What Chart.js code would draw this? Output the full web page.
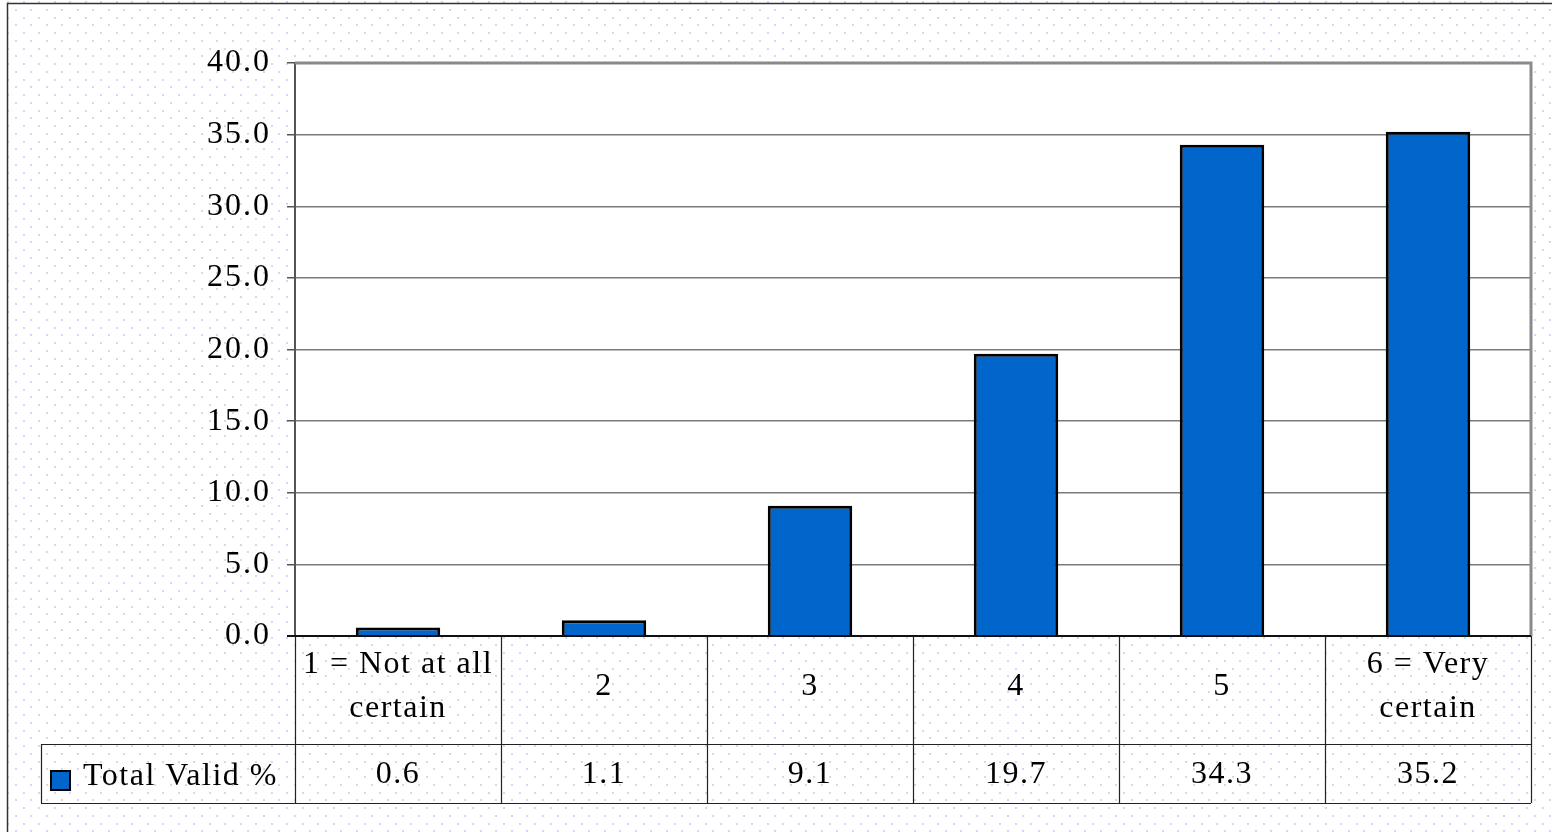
<!DOCTYPE html>
<html>
<head>
<meta charset="utf-8">
<script src="https://cdn.jsdelivr.net/npm/chart.js@4"></script>
<style>
  html, body { margin: 0; padding: 0; background: #fff; }
  #wrap { width: 1552px; height: 832px; }
</style>
</head>
<body>
<div id="wrap"><canvas id="chart" width="1552" height="832"></canvas></div>
<script>
// data
const categories = [['1 = Not at all', 'certain'], ['2'], ['3'], ['4'], ['5'], ['6 = Very', 'certain']];
const seriesName = 'Total Valid %';
const validPercent = [0.6, 1.1, 9.1, 19.7, 34.3, 35.2];
const yMin = 0, yMax = 40, yStep = 5;

const FONT = '"Liberation Serif", "Times New Roman", serif';
const FONT_SIZE = 32;
const BAR_BLUE = '#0066CC';

// dotted page background + outer frame
const backgroundPlugin = {
    id: 'dottedBackground',
    beforeDraw(chart) {
        const {ctx, width, height, chartArea} = chart;
        ctx.save();
        ctx.fillStyle = '#ffffff';
        ctx.fillRect(0, 0, width, height);
        ctx.fillStyle = '#d6d6f8';
        let row = 0;
        for (let y = 1; y < height; y += 7.75, row++) {
            const off = row % 2 ? 7.75 : 0;
            for (let x = 7 + off; x < width; x += 15.5) {
                ctx.fillRect(Math.round(x), Math.round(y), 2, 2);
            }
        }
        ctx.fillStyle = '#ffffff';
        ctx.fillRect(chartArea.left, chartArea.top, chartArea.right - chartArea.left, chartArea.bottom - chartArea.top);
        ctx.strokeStyle = '#333';
        ctx.lineWidth = 1.5;
        ctx.beginPath();
        ctx.moveTo(7.5, height);
        ctx.lineTo(7.5, 3.5);
        ctx.lineTo(width, 3.5);
        ctx.stroke();
        ctx.restore();
        // Chart.js does not touch letterSpacing, so tick labels pick this up
        ctx.letterSpacing = '2px';
    },
    beforeDatasetsDraw(chart) {
        const {ctx, chartArea} = chart;
        ctx.save();
        ctx.strokeStyle = '#8a8a8a';
        ctx.lineWidth = 3;
        ctx.beginPath();
        ctx.moveTo(chartArea.left, chartArea.top);
        ctx.lineTo(chartArea.right, chartArea.top);
        ctx.lineTo(chartArea.right, chartArea.bottom);
        ctx.stroke();
        ctx.restore();
    }
};

// Excel style data table under the plot
const dataTablePlugin = {
    id: 'dataTable',
    afterDraw(chart) {
        const {ctx, chartArea} = chart;
        const x = chart.scales.x;
        const n = categories.length;
        const colW = (chartArea.right - chartArea.left) / n;
        const top = chartArea.bottom;
        const rowMid = top + 108;
        const bottom = top + 167;
        const legendLeft = 41;

        ctx.save();
        ctx.strokeStyle = '#222';
        ctx.lineWidth = 1.2;
        ctx.beginPath();
        for (let i = 0; i <= n; i++) {
            const cx = Math.round(chartArea.left + i * colW) + 0.5;
            ctx.moveTo(cx, top);
            ctx.lineTo(cx, bottom);
        }
        ctx.moveTo(legendLeft + 0.5, rowMid);
        ctx.lineTo(legendLeft + 0.5, bottom);
        ctx.moveTo(legendLeft, rowMid + 0.5);
        ctx.lineTo(chartArea.right, rowMid + 0.5);
        ctx.moveTo(legendLeft, bottom + 0.5);
        ctx.lineTo(chartArea.right, bottom + 0.5);
        ctx.stroke();

        // category axis line
        ctx.strokeStyle = '#111';
        ctx.lineWidth = 2;
        ctx.beginPath();
        ctx.moveTo(chartArea.left - 8, top);
        ctx.lineTo(chartArea.right, top);
        ctx.stroke();

        ctx.fillStyle = '#000';
        ctx.font = FONT_SIZE + 'px ' + FONT;
        ctx.letterSpacing = '1.5px';
        ctx.textAlign = 'center';
        ctx.textBaseline = 'middle';
        categories.forEach((lines, i) => {
            const cx = x.getPixelForValue(i);
            if (lines.length === 1) {
                ctx.fillText(lines[0], cx, top + 51);
            } else {
                ctx.fillText(lines[0], cx, top + 29);
                ctx.fillText(lines[1], cx, top + 73);
            }
            ctx.fillText(validPercent[i].toFixed(1), cx, rowMid + 31);
        });

        // legend key
        ctx.fillStyle = BAR_BLUE;
        ctx.fillRect(51, rowMid + 27, 19, 19);
        ctx.strokeStyle = '#000';
        ctx.lineWidth = 2;
        ctx.strokeRect(51, rowMid + 27, 19, 19);
        ctx.fillStyle = '#000';
        ctx.textAlign = 'left';
        ctx.fillText(seriesName, 83, rowMid + 33);
        ctx.restore();
    }
};

new Chart(document.getElementById('chart'), {
    type: 'bar',
    data: {
        labels: categories,
        datasets: [{
            label: seriesName,
            data: validPercent,
            backgroundColor: BAR_BLUE,
            borderColor: '#000',
            borderWidth: 3,
            categoryPercentage: 1,
            barPercentage: 0.41
        }]
    },
    options: {
        responsive: false,
        animation: false,
        devicePixelRatio: 1,
        layout: {
            padding: {left: 0, top: 63, right: 21, bottom: 196}
        },
        scales: {
            x: {
                display: false
            },
            y: {
                min: yMin,
                max: yMax,
                afterFit(scale) {
                    scale.width = 295;
                },
                ticks: {
                    stepSize: yStep,
                    padding: 16,
                    color: '#000',
                    font: {family: FONT, size: FONT_SIZE},
                    callback: (v) => Number(v).toFixed(1)
                },
                grid: {
                    color: '#7a7a7a',
                    lineWidth: 1.5,
                    tickLength: 8,
                    tickColor: '#555'
                },
                border: {
                    color: '#555',
                    width: 2
                }
            }
        },
        plugins: {
            legend: {display: false},
            tooltip: {enabled: false}
        }
    },
    plugins: [backgroundPlugin, dataTablePlugin]
});
</script>
</body>
</html>
